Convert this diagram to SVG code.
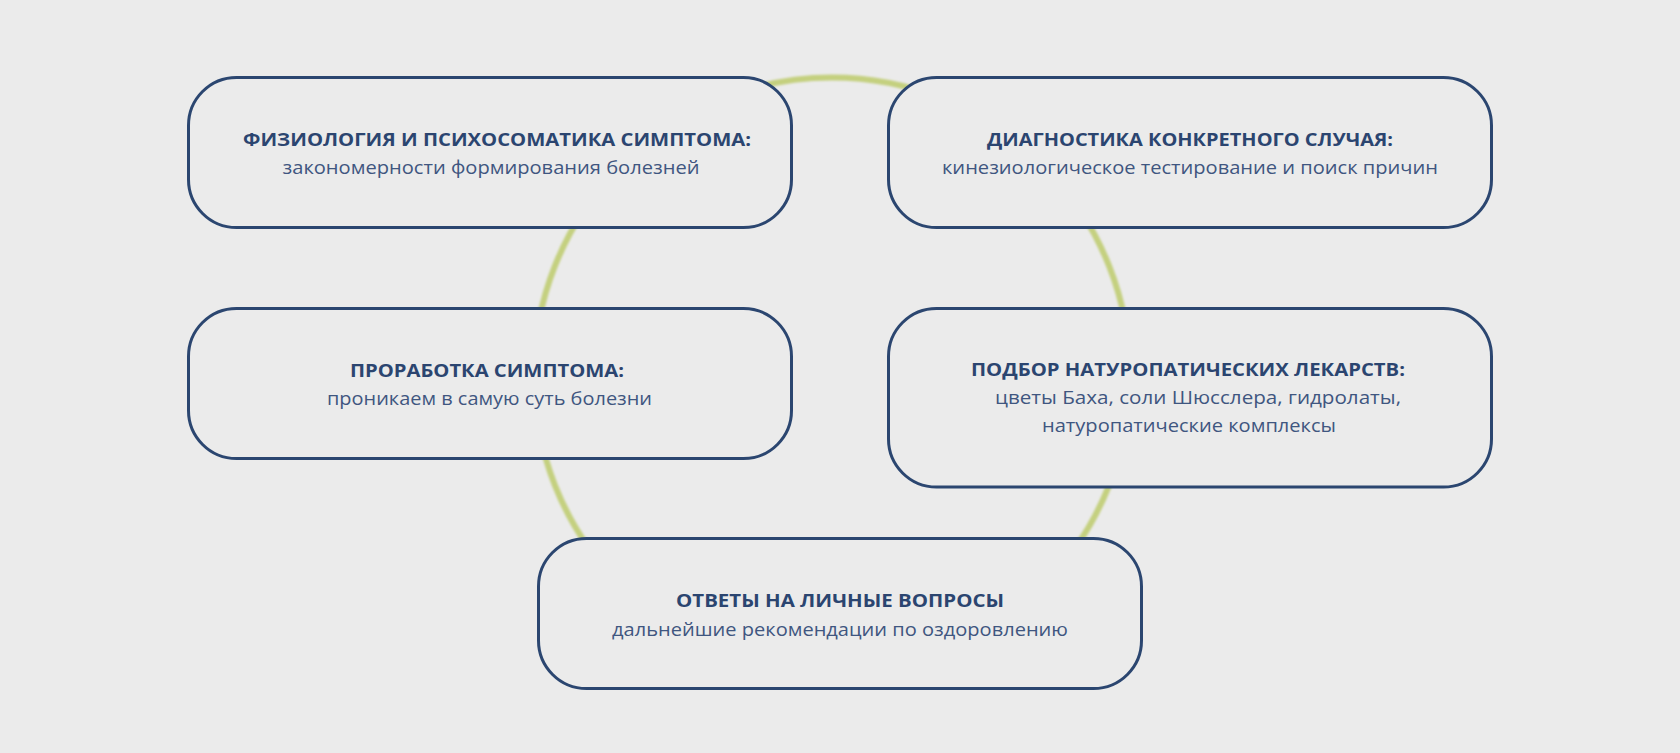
<svg xmlns="http://www.w3.org/2000/svg" width="1680" height="753" viewBox="0 0 1680 753">
<defs>
<filter id="soft" x="-10%" y="-10%" width="120%" height="120%"><feGaussianBlur stdDeviation="1.3"/></filter>
<style>
.box{fill:#ebebeb;stroke:#2b4670;stroke-width:3}
.t{font-family:"Open Sans","Noto Sans",sans-serif;font-weight:700;font-size:17px;fill:#2b4570;text-anchor:middle}
.s{font-family:"Open Sans","Noto Sans",sans-serif;font-weight:400;font-size:17.5px;fill:#3f5680;text-anchor:middle}
</style>
</defs>
<rect width="1680" height="753" fill="#ebebeb"/>
<g id="connectors">
<circle cx="832" cy="375.6" r="298" fill="none" stroke="#c4d07f" stroke-width="6" filter="url(#soft)"/>
</g>
<g id="node1">
<rect class="box" x="188.5" y="77.5" width="603" height="150" rx="48"/>
<text class="t" x="497" y="146" textLength="508" lengthAdjust="spacingAndGlyphs">ФИЗИОЛОГИЯ И ПСИХОСОМАТИКА СИМПТОМА:</text>
<text class="s" x="491" y="174" textLength="417" lengthAdjust="spacingAndGlyphs">закономерности формирования болезней</text>
</g>
<g id="node2">
<rect class="box" x="888.5" y="77.5" width="603" height="150" rx="48"/>
<text class="t" x="1190" y="146" textLength="406" lengthAdjust="spacingAndGlyphs">ДИАГНОСТИКА КОНКРЕТНОГО СЛУЧАЯ:</text>
<text class="s" x="1190" y="174" textLength="496" lengthAdjust="spacingAndGlyphs">кинезиологическое тестирование и поиск причин</text>
</g>
<g id="node3">
<rect class="box" x="188.5" y="308.5" width="603" height="150" rx="48"/>
<text class="t" x="487" y="377" textLength="274" lengthAdjust="spacingAndGlyphs">ПРОРАБОТКА СИМПТОМА:</text>
<text class="s" x="489.5" y="405" textLength="325" lengthAdjust="spacingAndGlyphs">проникаем в самую суть болезни</text>
</g>
<g id="node4">
<rect class="box" x="888.5" y="308.5" width="603" height="178.5" rx="48"/>
<text class="t" x="1188" y="376" textLength="434" lengthAdjust="spacingAndGlyphs">ПОДБОР НАТУРОПАТИЧЕСКИХ ЛЕКАРСТВ:</text>
<text class="s" x="1198" y="404" textLength="406" lengthAdjust="spacingAndGlyphs">цветы Баха, соли Шюсслера, гидролаты,</text>
<text class="s" x="1189" y="432" textLength="294" lengthAdjust="spacingAndGlyphs">натуропатические комплексы</text>
</g>
<g id="node5">
<rect class="box" x="538.5" y="538.5" width="603" height="150" rx="48"/>
<text class="t" x="840" y="607" textLength="328" lengthAdjust="spacingAndGlyphs">ОТВЕТЫ НА ЛИЧНЫЕ ВОПРОСЫ</text>
<text class="s" x="840" y="636" textLength="456" lengthAdjust="spacingAndGlyphs">дальнейшие рекомендации по оздоровлению</text>
</g>
</svg>
